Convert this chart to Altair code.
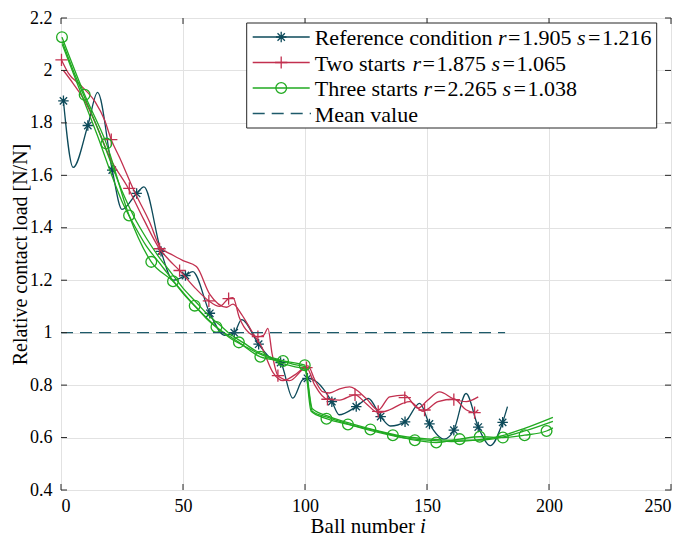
import altair as alt
import pandas as pd

# ---------------- data ----------------
# Reference condition (single strand)
ref_x = [1, 5, 11, 15, 21, 25, 31, 34, 41, 46, 51, 54, 61, 67, 71, 74, 81, 85, 90, 95, 99, 101,
         105, 111, 114, 121, 126, 131, 135, 141, 147, 151, 157, 161, 166, 171, 176, 181, 183]
ref_y = [1.884, 1.63, 1.79, 1.916, 1.62, 1.47, 1.531, 1.556, 1.31, 1.20, 1.218, 1.233, 1.074, 0.99,
         1.0, 1.05, 0.956, 0.91, 0.886, 0.75, 0.82, 0.826, 0.811, 0.737, 0.687, 0.718, 0.749, 0.68,
         0.644, 0.66, 0.73, 0.652, 0.594, 0.628, 0.768, 0.64, 0.569, 0.658, 0.718]
ref_mx = [1, 11, 21, 31, 41, 51, 61, 71, 81, 90, 101, 111, 121, 131, 141, 151, 161, 171, 181]
ref_my = [1.884, 1.79, 1.62, 1.531, 1.31, 1.218, 1.074, 1.0, 0.956, 0.886, 0.826, 0.737, 0.718,
          0.68, 0.66, 0.652, 0.628, 0.64, 0.658]

# Two starts (two strands)
two_a_x = [0.2, 3, 8.4, 14, 17.9, 20.6, 24, 30, 36.4, 40.4, 45.9, 50, 55.5, 61, 67.8, 70.5, 74,
           78.7, 82, 86.9, 91, 96, 101.2, 104, 107.4, 110, 114.2, 118.3, 125.1, 130, 134.7, 140.9,
           146.3, 150, 155.2, 161, 166.1, 171]
two_a_y = [2.04, 1.99, 1.94, 1.88, 1.81, 1.736, 1.668, 1.54, 1.42, 1.33, 1.295, 1.275, 1.252,
           1.146, 1.097, 1.109, 1.07, 0.997, 0.95, 0.848, 0.817, 0.84, 0.873, 0.82, 0.774, 0.77,
           0.786, 0.793, 0.749, 0.705, 0.755, 0.762, 0.712, 0.74, 0.774, 0.747, 0.737, 0.755]
two_b_x = [1, 5, 10, 15, 20, 27.6, 34, 40.4, 44, 48.6, 55, 60.6, 65, 68.7, 70.5, 73, 77, 80.7, 83,
           84.8, 86.5, 88.9, 93.7, 100.6, 104, 109.2, 114.2, 120.5, 125, 130, 134.7, 140, 142.9,
           148.4, 154.5, 161, 166, 169.5, 171]
two_b_y = [2.0, 1.95, 1.88, 1.78, 1.668, 1.55, 1.43, 1.32, 1.28, 1.237, 1.17, 1.121, 1.10, 1.13,
           1.134, 1.06, 1.00, 0.985, 0.99, 1.016, 0.92, 0.836, 0.817, 0.867, 0.80, 0.746, 0.743,
           0.763, 0.73, 0.695, 0.706, 0.73, 0.737, 0.70, 0.737, 0.747, 0.706, 0.695, 0.706]
two_mx = [0.2, 20.6, 28, 40.4, 48.6, 60.6, 68.7, 80.7, 88.9, 100.6, 109.2, 120.5, 130, 140.9,
          149, 161, 169.5]
two_my = [2.04, 1.736, 1.55, 1.32, 1.237, 1.121, 1.13, 0.985, 0.836, 0.867, 0.746, 0.763, 0.70,
          0.752, 0.705, 0.745, 0.695]

# Three starts (three strands)
three_a_x = [0.4, 9.7, 18.6, 27.9, 37, 45.9, 54.8, 63.7, 72.9, 81.7, 91, 99.9, 102.5, 108.8,
             117.6, 126.8, 136, 145, 153.8, 163.4, 171.6, 181.1, 190, 199, 201.6]
three_a_y = [2.127, 1.907, 1.721, 1.447, 1.27, 1.196, 1.103, 1.022, 0.963, 0.908, 0.892, 0.876,
             0.70, 0.672, 0.65, 0.631, 0.609, 0.59, 0.581, 0.594, 0.603, 0.60, 0.609, 0.625, 0.637]
three_b_x = [0.5, 5, 10, 15, 20, 25, 30, 35, 40, 45, 50, 55, 60, 65, 70, 75, 80, 85, 90, 95, 100,
             103, 110, 120, 130, 140, 150, 160, 170, 180, 190, 201.6]
three_b_y = [2.11, 2.0, 1.89, 1.78, 1.66, 1.54, 1.44, 1.36, 1.29, 1.23, 1.17, 1.12, 1.07, 1.03,
             0.99, 0.96, 0.93, 0.91, 0.895, 0.88, 0.87, 0.71, 0.68, 0.65, 0.625, 0.605, 0.595,
             0.59, 0.59, 0.60, 0.625, 0.662]
three_c_x = [0.5, 5, 10, 15, 20, 25, 30, 35, 40, 45, 50, 55, 60, 65, 70, 75, 80, 85, 90, 96, 100,
             103, 110, 120, 130, 140, 150, 160, 170, 180, 190, 201.6]
three_c_y = [2.10, 1.99, 1.87, 1.75, 1.62, 1.50, 1.41, 1.33, 1.27, 1.21, 1.15, 1.10, 1.05, 1.01,
             0.975, 0.95, 0.925, 0.905, 0.885, 0.87, 0.86, 0.70, 0.675, 0.645, 0.62, 0.60, 0.59,
             0.585, 0.59, 0.605, 0.635, 0.677]
three_mx = [0.4, 9.7, 18.6, 27.9, 37, 45.9, 54.8, 63.7, 72.9, 81.7, 91, 99.9, 108.8, 117.6, 126.8,
            136, 145, 153.8, 163.4, 171.6, 181.1, 190, 199]
three_my = [2.127, 1.907, 1.721, 1.447, 1.27, 1.196, 1.103, 1.022, 0.963, 0.908, 0.892, 0.876,
            0.672, 0.65, 0.631, 0.609, 0.59, 0.581, 0.594, 0.603, 0.60, 0.609, 0.625]

mean_x = [0, 182]
mean_y = [1.0, 1.0]

x_ticks = [0, 50, 100, 150, 200, 250]
y_ticks = [0.4, 0.6, 0.8, 1.0, 1.2, 1.4, 1.6, 1.8, 2.0, 2.2]

# legend entries: (name, r value, s value)
legend_names = ["Reference condition", "Two starts", "Three starts", "Mean value"]
legend_r = ["1.905", "1.875", "2.265", None]
legend_s = ["1.216", "1.065", "1.038", None]

# ---------------- styling ----------------
W, H = 610, 472
FONT = "Liberation Serif"
C_REF = "#0d4a5a"
C_TWO = "#c2304f"
C_THREE = "#21aa21"
C_MEAN = "#1d5a6a"
C_AX = "#262626"
ASTER = "M-1,0L1,0M0,-1L0,1M-0.7,-0.7L0.7,0.7M-0.7,0.7L0.7,-0.7"
PLUS = "M-1,0L1,0M0,-1L0,1"

xs = alt.Scale(domain=[0, 250], nice=False, zero=False)
ys = alt.Scale(domain=[0.4, 2.2], nice=False, zero=False)
AX = alt.Axis(values=x_ticks, format="d", grid=True, gridColor="#e2e2e2", domain=False,
              ticks=False, tickSize=0, labelPadding=7, labelFont=FONT, labelFontSize=18,
              labelColor="black", title=None)
AY = alt.Axis(values=y_ticks, format=".1~f", grid=True, gridColor="#e2e2e2", domain=False,
              ticks=False, tickSize=0, labelPadding=9, labelFont=FONT, labelFontSize=18,
              labelColor="black", title="Relative contact load [N/N]", titleFont=FONT,
              titleFontSize=20, titleFontWeight="normal", titleColor="black", titlePadding=-1)


def X(f="x"):
    return alt.X(f"{f}:Q", scale=xs, axis=AX)


def Y(f="y"):
    return alt.Y(f"{f}:Q", scale=ys, axis=AY)


def strands_df(parts):
    rows = []
    for k, (xx, yy) in enumerate(parts):
        for a, b in zip(xx, yy):
            rows.append({"x": a, "y": b, "k": k})
    return pd.DataFrame(rows)


def lines(parts, color):
    return alt.Chart(strands_df(parts)).mark_line(
        color=color, strokeWidth=1.3, interpolate="monotone"
    ).encode(x=X(), y=Y(), detail="k:N")


def markers(mx, my, color, shape, size):
    return alt.Chart(pd.DataFrame({"x": mx, "y": my})).mark_point(
        shape=shape, size=size, filled=False, stroke=color, strokeWidth=1.3, opacity=1
    ).encode(x=X(), y=Y())


layers = []
layers.append(lines([(ref_x, ref_y)], C_REF))
layers.append(markers(ref_mx, ref_my, C_REF, ASTER, 110))
layers.append(lines([(two_a_x, two_a_y), (two_b_x, two_b_y)], C_TWO))
layers.append(markers(two_mx, two_my, C_TWO, PLUS, 150))
layers.append(lines([(three_a_x, three_a_y), (three_b_x, three_b_y), (three_c_x, three_c_y)], C_THREE))
layers.append(markers(three_mx, three_my, C_THREE, "circle", 115))
layers.append(alt.Chart(pd.DataFrame({"x": mean_x, "y": mean_y})).mark_line(
    color=C_MEAN, strokeWidth=1.3, strokeDash=[12, 7]).encode(x=X(), y=Y()))

# inward ticks on all four sides
ytdf = pd.DataFrame({"v": y_ticks})
xtdf = pd.DataFrame({"v": x_ticks})
layers.append(alt.Chart(ytdf).mark_rule(color=C_AX, strokeWidth=1).encode(
    y=Y("v"), x=alt.value(0), x2=alt.value(6)))
layers.append(alt.Chart(ytdf).mark_rule(color=C_AX, strokeWidth=1).encode(
    y=Y("v"), x=alt.value(W - 6), x2=alt.value(W)))
layers.append(alt.Chart(xtdf).mark_rule(color=C_AX, strokeWidth=1).encode(
    x=X("v"), y=alt.value(H - 6), y2=alt.value(H)))
layers.append(alt.Chart(xtdf).mark_rule(color=C_AX, strokeWidth=1).encode(
    x=X("v"), y=alt.value(0), y2=alt.value(6)))

one = alt.Data(values=[{"a": 1}])

# legend
LX0, LX1, LY0, LY1 = 185.7, 595.7, 5, 110
layers.append(alt.Chart(one).mark_rect(fill="white", stroke=C_AX, strokeWidth=1).encode(
    x=alt.value(LX0), x2=alt.value(LX1), y=alt.value(LY0), y2=alt.value(LY1)))
rows_y = [19, 44.5, 70, 95.5]
sym = [(C_REF, ASTER, 110, None), (C_TWO, PLUS, 150, None), (C_THREE, "circle", 115, None),
       (C_MEAN, None, 0, [12, 7])]
for ry, (col, shp, sz, dash) in zip(rows_y, sym):
    if dash:
        layers.append(alt.Chart(one).mark_rule(color=col, strokeWidth=1.3, strokeDash=dash).encode(
            x=alt.value(191.7), x2=alt.value(250), y=alt.value(ry)))
    else:
        layers.append(alt.Chart(one).mark_rule(color=col, strokeWidth=1.3).encode(
            x=alt.value(191.7), x2=alt.value(248.7), y=alt.value(ry)))
        layers.append(alt.Chart(one).mark_point(shape=shp, size=sz, filled=False, stroke=col,
                                                strokeWidth=1.3, opacity=1).encode(
            x=alt.value(220.2), y=alt.value(ry)))

# Times-like advance widths (per em) for placing the text pieces
TW = {" ": 0.25, "=": 0.564, ".": 0.25, "R": 0.667, "T": 0.611, "M": 0.889, "e": 0.444,
      "f": 0.333, "r": 0.333, "n": 0.5, "c": 0.444, "o": 0.5, "d": 0.5, "i": 0.278, "t": 0.278,
      "w": 0.722, "s": 0.389, "a": 0.444, "h": 0.5, "l": 0.278, "v": 0.5, "u": 0.5}


def tw(s, size):
    return sum(0.5 if ch.isdigit() else TW.get(ch, 0.5) for ch in s) * size


LFS = 22


def txt(t, x, y, style="normal"):
    return alt.Chart(one).mark_text(
        text=t, align="left", baseline="middle", font=FONT, fontSize=LFS,
        fontStyle=style, color="black").encode(x=alt.value(x), y=alt.value(y + 1))


for ry, name, rv, sv in zip(rows_y, legend_names, legend_r, legend_s):
    x = 253.7
    layers.append(txt(name, x, ry))
    if rv is None:
        continue
    x += tw(name, LFS) + 5.5
    layers.append(txt("r", x, ry, "italic"))
    x += 10
    layers.append(txt("=", x, ry))
    x += 14
    layers.append(txt(rv, x, ry))
    x += tw(rv, LFS) + 5.5
    layers.append(txt("s", x, ry, "italic"))
    x += 11
    layers.append(txt("=", x, ry))
    x += 14
    layers.append(txt(sv, x, ry))

# x-axis title with italic i
layers.append(alt.Chart(one).mark_text(
    text="Ball number", align="right", baseline="middle", font=FONT, fontSize=21,
    color="black").encode(x=alt.value(354), y=alt.value(H + 37)))
layers.append(alt.Chart(one).mark_text(
    text="i", align="left", baseline="middle", font=FONT, fontSize=21, fontStyle="italic",
    color="black").encode(x=alt.value(359), y=alt.value(H + 37)))

chart = alt.layer(*layers).properties(
    width=W, height=H,
    autosize=alt.AutoSizeParams(type="none"),
    padding={"left": 53, "top": 10, "right": 6, "bottom": 50},
    background="white",
).configure_view(stroke=C_AX, strokeWidth=1)

chart.save("out.html", embed_options={"renderer": "svg", "actions": False})
